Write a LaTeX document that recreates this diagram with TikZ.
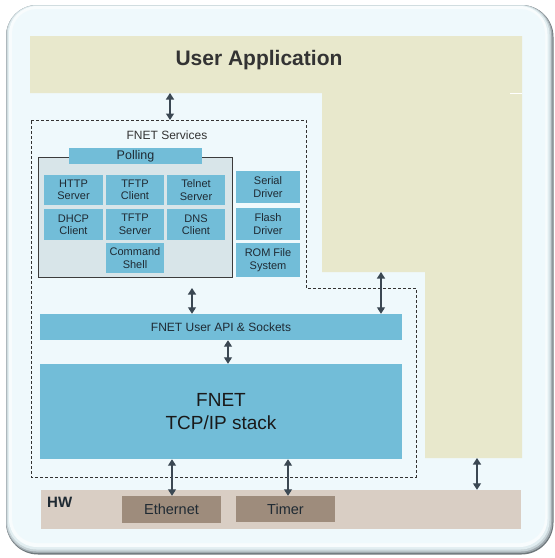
\documentclass[tikz,border=0pt]{standalone}
\usepackage{fontspec}
\setmainfont{Liberation Sans}
\usetikzlibrary{arrows.meta}
\definecolor{framefill}{HTML}{EFF9FC}
\definecolor{fr1}{HTML}{6E777B}
\definecolor{fr2}{RGB}{160,170,175}
\definecolor{fr3}{RGB}{200,212,216}
\definecolor{fr4}{RGB}{226,238,241}
\definecolor{fr5}{RGB}{248,252,253}
\definecolor{beige}{HTML}{E8E8CC}
\definecolor{blu}{HTML}{72BDD8}
\definecolor{grp}{HTML}{D8E5E9}
\definecolor{grpedge}{HTML}{3C3C3C}
\definecolor{hw}{HTML}{D9CEC4}
\definecolor{hwbox}{HTML}{9E8C7C}
\definecolor{arr}{HTML}{3B4853}
\definecolor{txt}{HTML}{1F2A33}
\definecolor{dashcol}{HTML}{333333}
\begin{document}
\begin{tikzpicture}[x=1pt,y=-1pt,
  blk/.style={fill=blu, draw=none, inner sep=0pt, text=txt, align=center,
    font=\fontsize{11}{12.5}\selectfont},
  dar/.style={draw=arr, line width=1.3pt, {Triangle[length=6.5pt,width=8pt]}-{Triangle[length=6.5pt,width=8pt]}},
  hwb/.style={fill=hwbox, draw=none, inner sep=0pt, text=txt, font=\fontsize{14.5}{17}\selectfont}
]
\useasboundingbox (0,0) rectangle (555,558);
% frame (3D bevel)
\fill[fr1, rounded corners=32pt] (6,5) rectangle (553.5,554.5);
\fill[fr2, rounded corners=31pt] (6,5) rectangle (552.5,553);
\fill[fr3, rounded corners=30pt] (6.5,5) rectangle (551,551.5);
\fill[fr4, rounded corners=29pt] (7.5,5.5) rectangle (549.5,549.5);
\fill[fr5, rounded corners=28pt] (9,6) rectangle (547.5,547);
\fill[framefill, rounded corners=25pt] (12,9) rectangle (545,543);
% user application L-shape
\fill[beige] (30,36) -- (522,36) -- (522,458) -- (425,458) -- (425,272) -- (322,272) -- (322,93) -- (30,93) -- cycle;
\draw[white, line width=1pt] (510,93.5) -- (522,93.5);
\node[font=\fontsize{21}{24}\selectfont\bfseries, text=black!80] (ua) at (259,60) {User Application};
\coordinate (uab) at (170,93);
\coordinate (uastep) at (381,272);
\coordinate (uacol) at (477,458);
% dashed outline
\draw[dashcol, line width=0.9pt, dash pattern=on 3pt off 2pt]
  (31,120) coordinate (svcnw) -- (306,120) -- (306,288) -- (416,288) -- (416,477) -- (31,477) -- cycle;
\coordinate (svctop) at (170,120);
\coordinate (svcbot) at (192,288);
\node[font=\fontsize{12}{14}\selectfont, text=black!80] (svc) at (167,135) {FNET Services};
% polling group
\node[fill=grp, draw=grpedge, line width=1pt, minimum width=194pt, minimum height=120pt, inner sep=0pt] (grp) at (135,217) {};
\node[blk, minimum width=133pt, minimum height=16pt, font=\fontsize{12.5}{14}\selectfont] (poll) at (135.5,156) {Polling};
% services
\node[blk, minimum width=59pt, minimum height=30pt] (http) at (73.5,190) {HTTP\\Server};
\node[blk, minimum width=58pt, minimum height=30pt] (tftpc) at (135,190) {TFTP\\Client};
\node[blk, minimum width=58pt, minimum height=30pt] (telnet) at (196,190) {Telnet\\Server};
\node[blk, minimum width=59pt, minimum height=31pt] (dhcp) at (73.5,224.5) {DHCP\\Client};
\node[blk, minimum width=58pt, minimum height=31pt] (tftps) at (135,224.5) {TFTP\\Server};
\node[blk, minimum width=58pt, minimum height=31pt] (dns) at (196,224.5) {DNS\\Client};
\node[blk, minimum width=58pt, minimum height=30pt] (cmd) at (135,258) {Command\\Shell};
\node[blk, minimum width=64pt, minimum height=32pt] (serial) at (268,187) {Serial\\Driver};
\node[blk, minimum width=64pt, minimum height=32pt] (flash) at (268,224) {Flash\\Driver};
\node[blk, minimum width=64pt, minimum height=34pt] (rom) at (268,260) {ROM File\\System};
% API and stack
\node[blk, minimum width=362pt, minimum height=26pt, font=\fontsize{12}{14}\selectfont] (api) at (221,327) {FNET User API \& Sockets};
\node[blk, minimum width=362pt, minimum height=95pt, font=\fontsize{19}{23}\selectfont, text=black!90] (stack) at (221,411.5) {FNET\\TCP/IP stack};
% HW
\node[fill=hw, draw=none, minimum width=480pt, minimum height=39pt, inner sep=0pt] (hw) at (281,509.5) {};
\node[font=\fontsize{15}{17}\selectfont\bfseries, text=txt, anchor=west, inner sep=0pt] (hwl) at (47,502) {HW};
\node[hwb, minimum width=99pt, minimum height=27pt] (eth) at (171.5,509.5) {Ethernet};
\node[hwb, minimum width=99pt, minimum height=26pt] (timer) at (285.5,509) {Timer};
% arrows
\draw[dar] (uab) -- (svctop);
\draw[dar] (svcbot) -- (api.north -| svcbot);
\draw[dar] (uastep) -- (api.north -| uastep);
\draw[dar] (api.south -| 228,0) -- (stack.north -| 228,0);
\draw[dar] (stack.south -| 172,0) -- (eth.north -| 172,0);
\draw[dar] (stack.south -| 288,0) -- (timer.north -| 288,0);
\draw[dar] (uacol) -- (hw.north -| uacol);
\end{tikzpicture}
\end{document}
